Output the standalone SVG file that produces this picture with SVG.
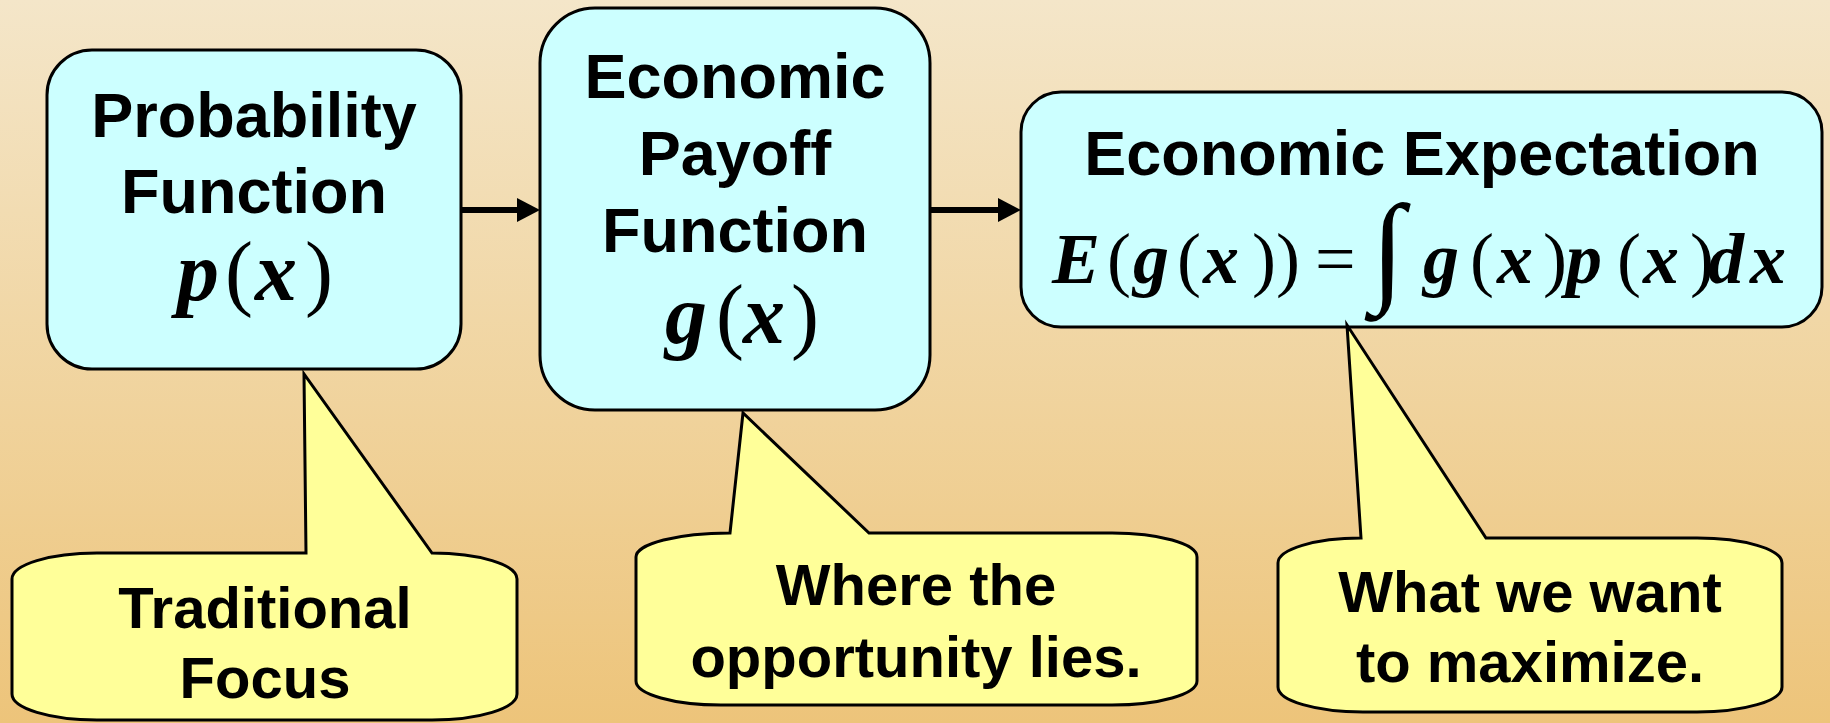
<svg xmlns="http://www.w3.org/2000/svg" width="1830" height="723" viewBox="0 0 1830 723">
  <defs>
    <linearGradient id="bg" x1="0" y1="0" x2="0" y2="1">
      <stop offset="0" stop-color="#F4E6C9"/>
      <stop offset="1" stop-color="#EDC47A"/>
    </linearGradient>
    <marker id="ah" markerWidth="24" markerHeight="24" refX="13" refY="12" orient="auto" markerUnits="userSpaceOnUse">
      <path d="M0,0 L23,12 L0,24 Z" fill="#000"/>
    </marker>
    <style>
      .box { fill: #CCFFFF; stroke: #000; stroke-width: 3; }
      .call { fill: #FFFF99; stroke: #000; stroke-width: 3; stroke-linejoin: miter; }
      .lbl { font-family: "Liberation Sans", Arial, sans-serif; font-weight: bold; font-size: 63px; fill: #000; text-anchor: middle; }
      .clbl { font-family: "Liberation Sans", Arial, sans-serif; font-weight: bold; font-size: 58px; fill: #000; text-anchor: middle; }
      .math { font-family: "Liberation Serif", "Times New Roman", serif; fill: #000; }
      .v { font-style: italic; font-weight: bold; }
      .conn { stroke: #000; stroke-width: 6; fill: none; marker-end: url(#ah); }
    </style>
  </defs>

  <rect x="0" y="0" width="1830" height="723" fill="url(#bg)"/>

  <g id="connectors">
    <line class="conn" x1="461" y1="210" x2="530" y2="210"/>
    <line class="conn" x1="930" y1="210" x2="1011" y2="210"/>
  </g>

  <g id="node-probability">
    <rect class="box" x="47" y="50" width="414" height="319" rx="45" ry="45"/>
    <text class="lbl" x="254" y="137">Probability</text>
    <text class="lbl" x="254" y="213">Function</text>
    <text class="math" font-size="84" y="300"><tspan class="v" x="177">p</tspan><tspan x="225">(</tspan><tspan class="v" x="255">x</tspan><tspan x="305">)</tspan></text>
  </g>

  <g id="node-payoff">
    <rect class="box" x="540" y="8" width="390" height="402" rx="55" ry="55"/>
    <text class="lbl" x="735" y="98">Economic</text>
    <text class="lbl" x="735" y="175">Payoff</text>
    <text class="lbl" x="735" y="252">Function</text>
    <text class="math" font-size="84" y="343"><tspan class="v" x="665">g</tspan><tspan x="716">(</tspan><tspan class="v" x="743">x</tspan><tspan x="791">)</tspan></text>
  </g>

  <g id="node-expectation">
    <rect class="box" x="1021" y="92" width="801" height="235" rx="40" ry="40"/>
    <text class="lbl" x="1422" y="175">Economic Expectation</text>
    <text class="math" font-size="72" y="283"><tspan class="v" x="1052">E</tspan><tspan x="1107">(</tspan><tspan class="v" x="1133">g</tspan><tspan x="1177">(</tspan><tspan class="v" x="1203">x</tspan><tspan x="1252">)</tspan><tspan x="1276">)</tspan><tspan x="1315">=</tspan><tspan x="1371" y="289" font-size="122">∫</tspan><tspan class="v" x="1423" y="283">g</tspan><tspan x="1470">(</tspan><tspan class="v" x="1497">x</tspan><tspan x="1543">)</tspan><tspan class="v" x="1566">p</tspan><tspan x="1617">(</tspan><tspan class="v" x="1643">x</tspan><tspan x="1690">)</tspan><tspan class="v" x="1708">d</tspan><tspan class="v" x="1750">x</tspan></text>
  </g>

  <g id="callout-traditional">
    <path class="call" d="M306,553 L304,374 L432,553 A85,26 0 0 1 517,579 L517,694 A85,26 0 0 1 432,720 L97,720 A85,26 0 0 1 12,694 L12,579 A85,26 0 0 1 97,553 Z"/>
    <text class="clbl" x="265" y="628">Traditional</text>
    <text class="clbl" x="265" y="698">Focus</text>
  </g>

  <g id="callout-opportunity">
    <path class="call" d="M730,533 L743,413 L869,533 L1112,533 A85,24 0 0 1 1197,557 L1197,681 A85,24 0 0 1 1112,705 L721,705 A85,24 0 0 1 636,681 L636,557 A94,24 0 0 1 730,533 Z"/>
    <text class="clbl" x="916" y="605">Where the</text>
    <text class="clbl" x="916" y="677">opportunity lies.</text>
  </g>

  <g id="callout-maximize">
    <path class="call" d="M1361,538 L1347,325 L1486,538 L1697,538 A85,25 0 0 1 1782,563 L1782,687 A85,25 0 0 1 1697,712 L1363,712 A85,25 0 0 1 1278,687 L1278,563 A83,25 0 0 1 1361,538 Z"/>
    <text class="clbl" x="1530" y="612">What we want</text>
    <text class="clbl" x="1530" y="682">to maximize.</text>
  </g>
</svg>
